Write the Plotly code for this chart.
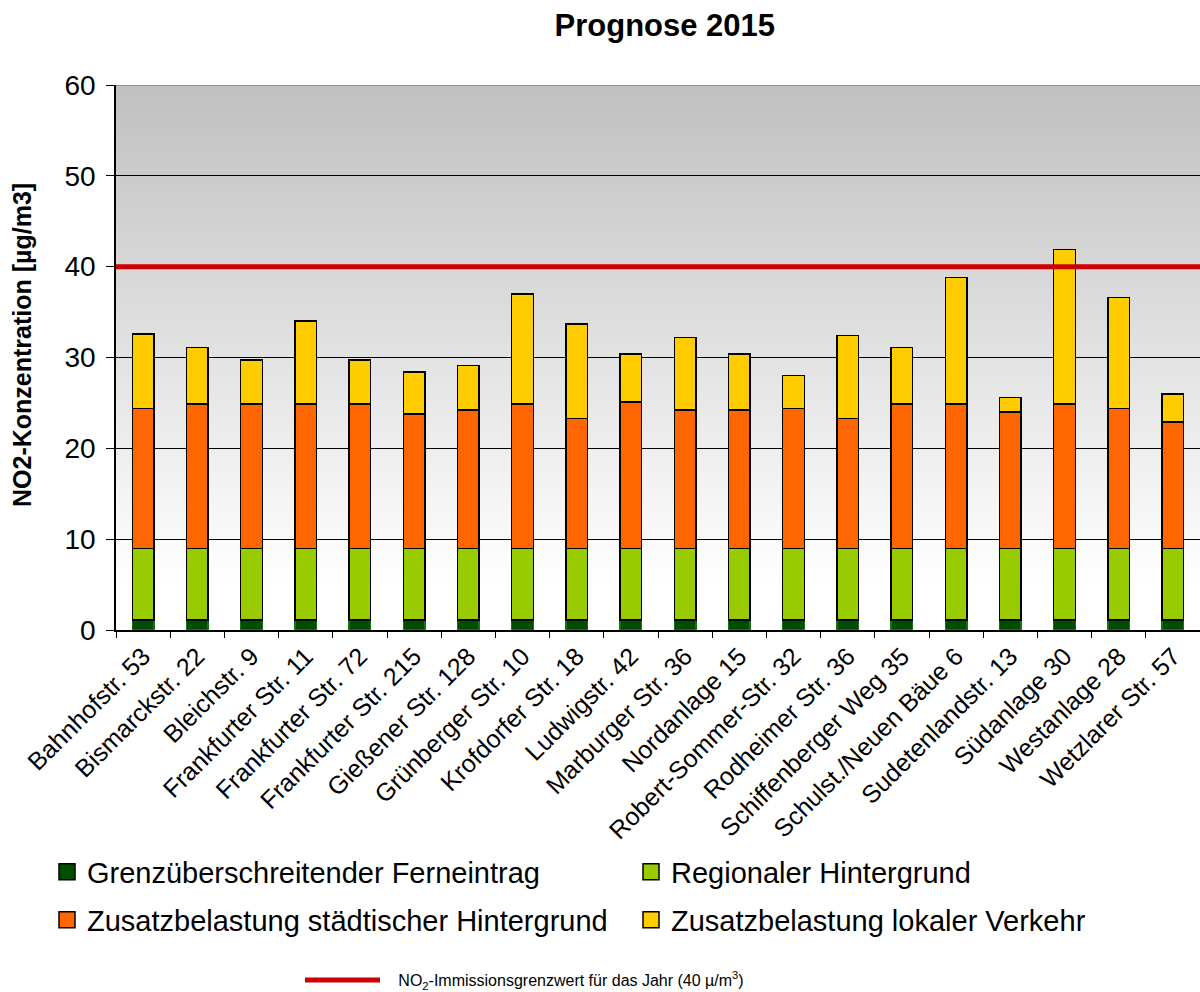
import plotly.graph_objects as go

# Measuring sites
standorte = [
    "Bahnhofstr. 53", "Bismarckstr. 22", "Bleichstr. 9", "Frankfurter Str. 11",
    "Frankfurter Str. 72", "Frankfurter Str. 215", "Gießener Str. 128",
    "Grünberger Str. 10", "Krofdorfer Str. 18", "Ludwigstr. 42",
    "Marburger Str. 36", "Nordanlage 15", "Robert-Sommer-Str. 32",
    "Rodheimer Str. 36", "Schiffenberger Weg 35", "Schulst./Neuen Bäue 6",
    "Sudetenlandstr. 13", "Südanlage 30", "Westanlage 28", "Wetzlarer Str. 57",
]

# NO2 contributions in µg/m3 (stacked from bottom to top)
ferneintrag = [1.1, 1.1, 1.1, 1.1, 1.1, 1.1, 1.1, 1.1, 1.1, 1.1,
               1.1, 1.1, 1.1, 1.1, 1.1, 1.1, 1.1, 1.1, 1.1, 1.1]
regional = [7.9, 7.9, 7.9, 7.9, 7.9, 7.9, 7.9, 7.9, 7.9, 7.9,
            7.9, 7.9, 7.9, 7.9, 7.9, 7.9, 7.9, 7.9, 7.9, 7.9]
staedtisch = [15.4, 15.9, 15.9, 15.9, 15.9, 14.8, 15.2, 15.9, 14.3, 16.1,
              15.2, 15.2, 15.4, 14.3, 15.9, 15.9, 15.0, 15.9, 15.4, 13.9]
verkehr = [8.2, 6.2, 4.8, 9.1, 4.8, 4.6, 4.9, 12.1, 10.4, 5.3,
           8.0, 6.2, 3.6, 9.1, 6.2, 13.9, 1.6, 17.0, 12.2, 3.1]

grenzwert = 40
y_ticks = [0, 10, 20, 30, 40, 50, 60]

H = 992
W = 1200

# name, values, fill, outline, legend id, legend position (px: left, centre y)
serien = [
    ("Grenzüberschreitender Ferneintrag", ferneintrag, "#004d00", "#0a7a0a", "legend", (47, 872)),
    ("Regionaler Hintergrund", regional, "#99cc00", "#000000", "legend2", (631, 872)),
    ("Zusatzbelastung städtischer Hintergrund", staedtisch, "#ff6600", "#000000", "legend3", (47, 920)),
    ("Zusatzbelastung lokaler Verkehr", verkehr, "#ffcc00", "#000000", "legend4", (631, 920)),
]

fig = go.Figure()
legenden = {}

for name, werte, farbe, rand, leg, (lx, ly) in serien:
    fig.add_trace(go.Bar(
        x=standorte, y=werte, name=name, showlegend=False,
        marker=dict(color=farbe, line=dict(color=rand, width=1.5)),
    ))
    # legend entry with a larger square symbol
    fig.add_trace(go.Scatter(
        x=[None], y=[None], mode="markers", name=name, legend=leg,
        marker=dict(symbol="square", size=16, color=farbe,
                    line=dict(color="#000000", width=1.5)),
    ))
    legenden[leg] = dict(orientation="h", xref="container", x=lx / W, xanchor="left",
                         yref="container", y=1 - ly / H, yanchor="middle",
                         font=dict(size=29), bgcolor="rgba(0,0,0,0)")

# Annual limit value line across the full plot width
fig.add_trace(go.Scatter(
    x=[-0.004, 1], y=[grenzwert, grenzwert], xaxis="x2", mode="lines",
    line=dict(color="#cc0000", width=5), legend="legend5",
    name="\u00a0\u00a0\u00a0NO<sub>2</sub>-Immissionsgrenzwert für das Jahr (40 µ/m<sup>3</sup>)",
))
legenden["legend5"] = dict(orientation="h", xref="container", x=300 / W, xanchor="left",
                           yref="container", y=1 - 980 / H, yanchor="middle", itemwidth=75,
                           font=dict(size=16), bgcolor="rgba(0,0,0,0)")

# Grey-to-white vertical gradient behind the plot
shapes = []
n = 120
for i in range(n):
    y0 = 60 * i / n
    y1 = 60 * (i + 1) / n
    ym = (y0 + y1) / 2
    g = 255 - max(0.0, (ym - 5)) * (63 / 55)
    g = int(round(min(255, max(192, g))))
    shapes.append(dict(type="rect", xref="paper", yref="y", x0=0, x1=1,
                       y0=y0, y1=min(60, y1 + 0.3), fillcolor=f"rgb({g},{g},{g})",
                       line=dict(width=0), layer="below"))
shapes.append(dict(type="line", xref="paper", yref="y", x0=0, x1=1, y0=60, y1=60,
                   line=dict(color="#808080", width=1.5), layer="above"))

fig.update_layout(
    width=W, height=H,
    margin=dict(l=116, r=0, t=85, b=362, autoexpand=False),
    paper_bgcolor="white", plot_bgcolor="white",
    barmode="stack", bargap=0.6,
    font=dict(family="Liberation Sans, Arial, sans-serif", color="#000000"),
    title=dict(text="<b>Prognose 2015</b>", font=dict(size=31),
               xref="container", x=0.554, xanchor="center",
               yref="container", y=1 - 25 / H, yanchor="middle"),
    xaxis=dict(
        type="category", showline=True, linecolor="#000000", linewidth=1.5,
        ticks="outside", tickson="boundaries", ticklen=6, tickcolor="#000000",
        tickangle=-45, tickfont=dict(size=25), showgrid=False, automargin=False,
        range=[-0.5, 19.5],
    ),
    xaxis2=dict(overlaying="x", range=[0, 1], visible=False),
    yaxis=dict(
        range=[0, 60], tickvals=y_ticks, tickfont=dict(size=28),
        showline=True, linecolor="#000000", linewidth=1.5,
        ticks="outside", ticklen=8, tickcolor="#000000",
        showgrid=True, gridcolor="#000000", gridwidth=1,
        zeroline=False, automargin=False, ticklabelstandoff=5,
    ),
    shapes=shapes,
    annotations=[dict(
        text="<b>NO2-Konzentration [µg/m3]</b>", textangle=-90,
        xref="paper", yref="paper", x=(22 - 116) / 1084, y=(630 - 345) / 545,
        xanchor="center", yanchor="middle", showarrow=False, font=dict(size=25),
    )],
    **legenden,
)

fig.write_html("out.html")
